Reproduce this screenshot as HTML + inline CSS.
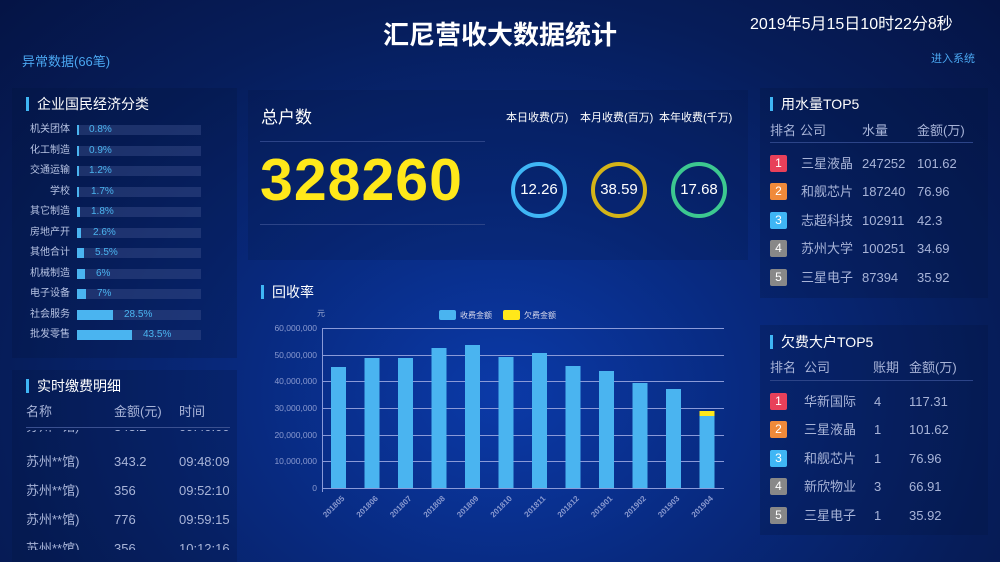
<!DOCTYPE html>
<html><head><meta charset="utf-8"><style>
*{margin:0;padding:0;box-sizing:border-box}
body{width:1000px;height:562px;overflow:hidden;position:relative;font-family:"Liberation Sans","Noto Sans CJK SC",sans-serif;color:#c8d2f0;
background:radial-gradient(ellipse at 50% 70%,#0b3aa8 0%,#082a80 35%,#061d5a 70%,#051445 100%);}
.a{position:absolute;white-space:nowrap}
.panel{position:absolute;background:rgba(5,20,60,0.25)}
.tt{position:absolute;font-size:14px;color:#fff;padding-left:8px;border-left:3px solid #3fb6f5;line-height:14px;height:14px}
.lab{position:absolute;font-size:10px;color:#b8c4e4;text-align:right;width:70px;line-height:12px;height:12px}
.trk{position:absolute;left:77px;width:124px;height:10px;background:rgba(60,80,140,0.45)}
.fil{position:absolute;left:0;top:0;height:10px;background:#4ab4f0}
.pct{position:absolute;font-size:10px;color:#4ab4f0;line-height:12px;height:12px}
.row{position:absolute;font-size:13px;color:#a8b4d8;line-height:17px;height:17px;white-space:nowrap}
.bd{display:inline-block;width:17px;height:17px;color:#fff;text-align:center;line-height:17px;font-size:12px;border-radius:2px;vertical-align:top}
.ring{position:absolute;width:56px;height:56px;border-radius:50%;border:4px solid;color:#fff;font-size:15px;text-align:center;line-height:48px}
</style></head><body>
<div class="a" style="left:0;top:18px;width:1000px;text-align:center;font-size:26px;line-height:34px;font-weight:bold;color:#fff">汇尼营收大数据统计</div>
<div class="a" style="left:750px;top:15px;font-size:16px;line-height:20px;color:#fff">2019年5月15日10时22分8秒</div>
<div class="a" style="left:22px;top:53px;font-size:13px;line-height:17px;color:#4aa6f0">异常数据(66笔)</div>
<div class="a" style="left:931px;top:52px;font-size:11px;line-height:14px;color:#4aa6f0">进入系统</div>

<div class="panel" style="left:12px;top:88px;width:225px;height:270px"></div>
<div class="tt" style="left:26px;top:97px">企业国民经济分类</div>
<div class="lab" style="left:0;top:124px">机关团体</div><div class="trk" style="top:125px"><div class="fil" style="width:2px"></div></div><div class="pct" style="left:89px;top:124px">0.8%</div>
<div class="lab" style="left:0;top:145px">化工制造</div><div class="trk" style="top:146px"><div class="fil" style="width:2px"></div></div><div class="pct" style="left:89px;top:145px">0.9%</div>
<div class="lab" style="left:0;top:165px">交通运输</div><div class="trk" style="top:166px"><div class="fil" style="width:2px"></div></div><div class="pct" style="left:89px;top:165px">1.2%</div>
<div class="lab" style="left:0;top:186px">学校</div><div class="trk" style="top:187px"><div class="fil" style="width:2px"></div></div><div class="pct" style="left:91px;top:186px">1.7%</div>
<div class="lab" style="left:0;top:206px">其它制造</div><div class="trk" style="top:207px"><div class="fil" style="width:3px"></div></div><div class="pct" style="left:91px;top:206px">1.8%</div>
<div class="lab" style="left:0;top:227px">房地产开</div><div class="trk" style="top:228px"><div class="fil" style="width:4px"></div></div><div class="pct" style="left:93px;top:227px">2.6%</div>
<div class="lab" style="left:0;top:247px">其他合计</div><div class="trk" style="top:248px"><div class="fil" style="width:7px"></div></div><div class="pct" style="left:95px;top:247px">5.5%</div>
<div class="lab" style="left:0;top:268px">机械制造</div><div class="trk" style="top:269px"><div class="fil" style="width:8px"></div></div><div class="pct" style="left:96px;top:268px">6%</div>
<div class="lab" style="left:0;top:288px">电子设备</div><div class="trk" style="top:289px"><div class="fil" style="width:9px"></div></div><div class="pct" style="left:97px;top:288px">7%</div>
<div class="lab" style="left:0;top:309px">社会服务</div><div class="trk" style="top:310px"><div class="fil" style="width:36px"></div></div><div class="pct" style="left:124px;top:309px">28.5%</div>
<div class="lab" style="left:0;top:329px">批发零售</div><div class="trk" style="top:330px"><div class="fil" style="width:55px"></div></div><div class="pct" style="left:143px;top:329px">43.5%</div>

<div class="panel" style="left:12px;top:370px;width:225px;height:192px"></div>
<div class="tt" style="left:26px;top:379px">实时缴费明细</div>
<div class="row" style="left:26px;top:403px">名称</div><div class="row" style="left:114px;top:403px">金额(元)</div><div class="row" style="left:179px;top:403px">时间</div>
<div class="a" style="left:26px;top:427px;width:204px;height:1px;background:#3a5090"></div>
<div style="position:absolute;left:0;top:430px;width:240px;height:120px;overflow:hidden">
<div class="row" style="left:26px;top:-12px">苏州**馆)</div><div class="row" style="left:114px;top:-12px">343.2</div><div class="row" style="left:179px;top:-12px">09:40:00</div>
<div class="row" style="left:26px;top:23px">苏州**馆)</div><div class="row" style="left:114px;top:23px">343.2</div><div class="row" style="left:179px;top:23px;width:52px;overflow:hidden">09:48:09</div>
<div class="row" style="left:26px;top:52px">苏州**馆)</div><div class="row" style="left:114px;top:52px">356</div><div class="row" style="left:179px;top:52px;width:52px;overflow:hidden">09:52:10</div>
<div class="row" style="left:26px;top:81px">苏州**馆)</div><div class="row" style="left:114px;top:81px">776</div><div class="row" style="left:179px;top:81px;width:52px;overflow:hidden">09:59:15</div>
<div class="row" style="left:26px;top:110px">苏州**馆)</div><div class="row" style="left:114px;top:110px">356</div><div class="row" style="left:179px;top:110px;width:52px;overflow:hidden">10:12:16</div>
</div>

<div class="panel" style="left:248px;top:90px;width:500px;height:170px;background:rgba(5,20,60,0.2)"></div>
<div class="a" style="left:261px;top:107px;font-size:17px;line-height:22px;color:#fff">总户数</div>
<div class="a" style="left:260px;top:141px;width:225px;height:1px;background:#2c4488"></div>
<div class="a" style="left:260px;top:147px;font-size:59px;line-height:66px;font-weight:bold;color:#ffe81a;letter-spacing:1px">328260</div>
<div class="a" style="left:260px;top:224px;width:225px;height:1px;background:#2c4488"></div>
<div class="a" style="left:506px;top:111px;font-size:11px;line-height:14px;color:#fff">本日收费(万)</div>
<div class="a" style="left:580px;top:111px;font-size:11px;line-height:14px;color:#fff">本月收费(百万)</div>
<div class="a" style="left:659px;top:111px;font-size:11px;line-height:14px;color:#fff">本年收费(千万)</div>
<div class="ring" style="left:511px;top:162px;border-color:#3fb6f5">12.26</div>
<div class="ring" style="left:591px;top:162px;border-color:#d4b418">38.59</div>
<div class="ring" style="left:671px;top:162px;border-color:#3cc890">17.68</div>

<div class="tt" style="left:261px;top:285px">回收率</div>
<svg class="a" style="left:250px;top:295px" width="490" height="262" viewBox="250 295 490 262" font-family="Liberation Sans,Noto Sans CJK SC,sans-serif">
<text x="317" y="316" font-size="8" fill="#9aa8d0">元</text>
<rect x="439" y="310" width="17" height="10" rx="2" fill="#4ab4f0"/><text x="460" y="318" font-size="8" fill="#dde">收费金额</text>
<rect x="503" y="310" width="17" height="10" rx="2" fill="#ffe81a"/><text x="524" y="318" font-size="8" fill="#dde">欠费金额</text>
<g stroke="#8a9ad8" stroke-width="1">
<line x1="322" y1="328.5" x2="724" y2="328.5"/><line x1="322" y1="355.5" x2="724" y2="355.5"/><line x1="322" y1="381.5" x2="724" y2="381.5"/><line x1="322" y1="408.5" x2="724" y2="408.5"/><line x1="322" y1="435.5" x2="724" y2="435.5"/><line x1="322" y1="461.5" x2="724" y2="461.5"/><line x1="322" y1="488.5" x2="724" y2="488.5"/>
<line x1="322.5" y1="328" x2="322.5" y2="492"/>
</g>
<g font-size="8.5" fill="#8a9ad0" text-anchor="end">
<text x="317" y="331">60,000,000</text><text x="317" y="358">50,000,000</text><text x="317" y="384">40,000,000</text><text x="317" y="411">30,000,000</text><text x="317" y="438">20,000,000</text><text x="317" y="464">10,000,000</text><text x="317" y="491">0</text>
</g>
<g fill="#4ab4f0">
<rect x="331" y="367" width="15" height="121"/><rect x="364.5" y="358" width="15" height="130"/><rect x="398" y="358" width="15" height="130"/><rect x="431.5" y="348" width="15" height="140"/><rect x="465" y="345" width="15" height="143"/><rect x="498.5" y="357" width="15" height="131"/><rect x="532" y="353" width="15" height="135"/><rect x="565.5" y="366" width="15" height="122"/><rect x="599" y="371" width="15" height="117"/><rect x="632.5" y="383" width="15" height="105"/><rect x="666" y="389" width="15" height="99"/><rect x="699.5" y="416" width="15" height="72"/>
</g>
<rect x="699.5" y="411" width="15" height="5" fill="#ffe81a"/>
<g font-size="8" fill="#8a9ad0" font-weight="bold" text-anchor="end">
<text transform="translate(345,499) rotate(-45)">201805</text><text transform="translate(378.5,499) rotate(-45)">201806</text><text transform="translate(412,499) rotate(-45)">201807</text><text transform="translate(445.5,499) rotate(-45)">201808</text><text transform="translate(479,499) rotate(-45)">201809</text><text transform="translate(512.5,499) rotate(-45)">201810</text><text transform="translate(546,499) rotate(-45)">201811</text><text transform="translate(579.5,499) rotate(-45)">201812</text><text transform="translate(613,499) rotate(-45)">201901</text><text transform="translate(646.5,499) rotate(-45)">201902</text><text transform="translate(680,499) rotate(-45)">201903</text><text transform="translate(713.5,499) rotate(-45)">201904</text>
</g>
</svg>

<div class="panel" style="left:760px;top:88px;width:228px;height:210px"></div>
<div class="tt" style="left:770px;top:97px">用水量TOP5</div>
<div class="row" style="left:770px;top:122px">排名</div><div class="row" style="left:800px;top:122px">公司</div><div class="row" style="left:862px;top:122px">水量</div><div class="row" style="left:917px;top:122px">金额(万)</div>
<div class="a" style="left:770px;top:142px;width:203px;height:1px;background:#2c4488"></div>
<div class="row" style="left:770px;top:155px"><span class="bd" style="background:#e8405a">1</span></div><div class="row" style="left:801px;top:155px">三星液晶</div><div class="row" style="left:862px;top:155px">247252</div><div class="row" style="left:917px;top:155px">101.62</div>
<div class="row" style="left:770px;top:183px"><span class="bd" style="background:#f08a3a">2</span></div><div class="row" style="left:801px;top:183px">和舰芯片</div><div class="row" style="left:862px;top:183px">187240</div><div class="row" style="left:917px;top:183px">76.96</div>
<div class="row" style="left:770px;top:212px"><span class="bd" style="background:#3fb6f5">3</span></div><div class="row" style="left:801px;top:212px">志超科技</div><div class="row" style="left:862px;top:212px">102911</div><div class="row" style="left:917px;top:212px">42.3</div>
<div class="row" style="left:770px;top:240px"><span class="bd" style="background:#888">4</span></div><div class="row" style="left:801px;top:240px">苏州大学</div><div class="row" style="left:862px;top:240px">100251</div><div class="row" style="left:917px;top:240px">34.69</div>
<div class="row" style="left:770px;top:269px"><span class="bd" style="background:#888">5</span></div><div class="row" style="left:801px;top:269px">三星电子</div><div class="row" style="left:862px;top:269px">87394</div><div class="row" style="left:917px;top:269px">35.92</div>

<div class="panel" style="left:760px;top:325px;width:228px;height:210px"></div>
<div class="tt" style="left:770px;top:335px">欠费大户TOP5</div>
<div class="row" style="left:770px;top:359px">排名</div><div class="row" style="left:804px;top:359px">公司</div><div class="row" style="left:873px;top:359px">账期</div><div class="row" style="left:909px;top:359px">金额(万)</div>
<div class="a" style="left:770px;top:380px;width:203px;height:1px;background:#2c4488"></div>
<div class="row" style="left:770px;top:393px"><span class="bd" style="background:#e8405a">1</span></div><div class="row" style="left:804px;top:393px">华新国际</div><div class="row" style="left:874px;top:393px">4</div><div class="row" style="left:909px;top:393px">117.31</div>
<div class="row" style="left:770px;top:421px"><span class="bd" style="background:#f08a3a">2</span></div><div class="row" style="left:804px;top:421px">三星液晶</div><div class="row" style="left:874px;top:421px">1</div><div class="row" style="left:909px;top:421px">101.62</div>
<div class="row" style="left:770px;top:450px"><span class="bd" style="background:#3fb6f5">3</span></div><div class="row" style="left:804px;top:450px">和舰芯片</div><div class="row" style="left:874px;top:450px">1</div><div class="row" style="left:909px;top:450px">76.96</div>
<div class="row" style="left:770px;top:478px"><span class="bd" style="background:#888">4</span></div><div class="row" style="left:804px;top:478px">新欣物业</div><div class="row" style="left:874px;top:478px">3</div><div class="row" style="left:909px;top:478px">66.91</div>
<div class="row" style="left:770px;top:507px"><span class="bd" style="background:#888">5</span></div><div class="row" style="left:804px;top:507px">三星电子</div><div class="row" style="left:874px;top:507px">1</div><div class="row" style="left:909px;top:507px">35.92</div>
</body></html>
